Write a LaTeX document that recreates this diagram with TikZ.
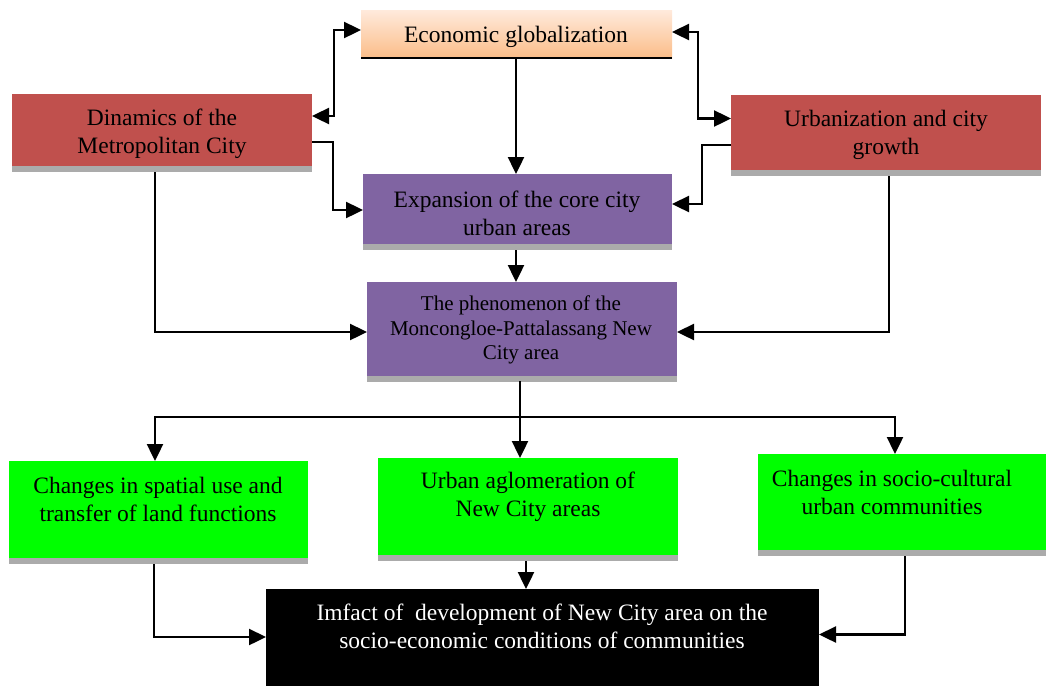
\documentclass[tikz,border=0pt]{standalone}
\usepackage{fontspec}
\setmainfont{Liberation Serif}
\usetikzlibrary{arrows.meta,shadows}

\definecolor{peachtop}{HTML}{FFEADC}
\definecolor{peachbot}{HTML}{FBBD88}
\definecolor{brick}{HTML}{C0504D}
\definecolor{violet}{HTML}{8064A2}
\definecolor{lime}{HTML}{00FF00}
\definecolor{shadowgray}{HTML}{ABABAB}

\tikzset{
  box/.style={rectangle, draw=none, inner sep=0pt, outer sep=0pt},
  shadowed/.style={drop shadow={shadow xshift=0pt, shadow yshift=-6pt, fill=shadowgray, opacity=1}},
  lbl/.style={align=center, inner sep=0pt, font=\fontsize{23.5}{28}\selectfont},
  lblsmall/.style={align=center, inner sep=0pt, font=\fontsize{21}{24.5}\selectfont},
  head/.style={Triangle[length=17pt,width=16pt]},
  arr/.style={line width=2.4pt, -{Triangle[length=17pt,width=16pt]}},
  arrboth/.style={line width=2.4pt, {Triangle[length=17pt,width=16pt]}-{Triangle[length=17pt,width=16pt]}},
  plain/.style={line width=2.4pt},
}

\begin{document}
\begin{tikzpicture}[x=1pt,y=-1pt]
\useasboundingbox (0,0) rectangle (1046,686);

% boxes
\node[box, minimum width=311pt, minimum height=48pt, top color=peachtop, bottom color=peachbot] (eg) at (516.5,34) {};
\draw[line width=2.4pt] (eg.south west) -- (eg.south east);

\node[box, shadowed, fill=brick, minimum width=300pt, minimum height=72pt] (dyn) at (162,130) {};
\node[box, shadowed, fill=brick, minimum width=310pt, minimum height=75pt] (urb) at (886,132.5) {};
\node[box, shadowed, fill=violet, minimum width=309pt, minimum height=70pt] (exp) at (517.5,209) {};
\node[box, shadowed, fill=violet, minimum width=310pt, minimum height=94pt] (phe) at (522,329) {};
\node[box, shadowed, fill=lime, minimum width=299pt, minimum height=97pt] (spa) at (158.5,509.5) {};
\node[box, shadowed, fill=lime, minimum width=300pt, minimum height=97pt] (agl) at (528,506.5) {};
\node[box, shadowed, fill=lime, minimum width=288pt, minimum height=96pt] (soc) at (902,502) {};
\node[box, fill=black, minimum width=553pt, minimum height=97pt] (imf) at (542.5,637.5) {};

% labels
\node[lbl] (egt) at (516,37) {Economic globalization};
\node[lbl] (dynt) at (162,134) {Dinamics of the\\Metropolitan City};
\node[lbl] (urbt) at (886,135) {Urbanization and city\\growth};
\node[lbl] (expt) at (517,213) {Expansion of the core city\\urban areas};
\node[lblsmall] (phet) at (521,330) {The phenomenon of the\\Moncongloe-Pattalassang New\\City area};
\node[lbl] (spat) at (158,499) {Changes in spatial use and\\transfer of land functions};
\node[lbl] (aglt) at (528,497) {Urban aglomeration of\\New City areas};
\node[lbl] (soct) at (892,492) {Changes in socio-cultural\\urban communities};
\node[lbl, text=white] (imft) at (542,626.5) {Imfact of\ \ development of New City area on the\\socio-economic conditions of communities};

% connectors
\draw[arrboth] ([yshift=14pt]dyn.east) -- ++(22,0) |- ([yshift=4pt]eg.west);
\draw[arrboth] ([yshift=2pt]eg.east) -- ++(26,0) |- ([yshift=14pt]urb.west);
\draw[arr] ([xshift=-0.5pt]eg.south) -- ([xshift=-1.5pt]exp.north);
\draw[arr] ([yshift=-12pt]dyn.east) -- ++(21,0) |- ([yshift=-1pt]exp.west);
\draw[arr] ([yshift=-12.5pt]urb.west) -- ++(-29,0) |- ([yshift=5pt]exp.east);
\draw[arr] ([xshift=-1.5pt,yshift=-6pt]exp.south) -- ([xshift=-6pt]phe.north);
\draw[arr] ([xshift=-7pt,yshift=-6pt]dyn.south) |- ([yshift=-3pt]phe.west);
\draw[arr] ([xshift=3pt,yshift=-6pt]urb.south) |- ([yshift=-3pt]phe.east);

\coordinate (hub) at (520,417);
\draw[plain] ([xshift=-2pt,yshift=-5pt]phe.south) -- (hub);
\draw[arr] (hub) -| ([xshift=-3.5pt]spa.north);
\draw[arr] (hub) -- (hub |- agl.north);
\draw[arr] (hub) -| ([xshift=-7pt]soc.north);

\draw[arr] ([xshift=-4.5pt,yshift=-6pt]spa.south) |- ([yshift=0.5pt]imf.west);
\draw[arr] ([xshift=-2pt,yshift=-6pt]agl.south) -- ([xshift=-16.5pt]imf.north);
\draw[arr] ([xshift=3pt,yshift=-6pt]soc.south) |- ([yshift=3pt]imf.east);
\end{tikzpicture}
\end{document}
